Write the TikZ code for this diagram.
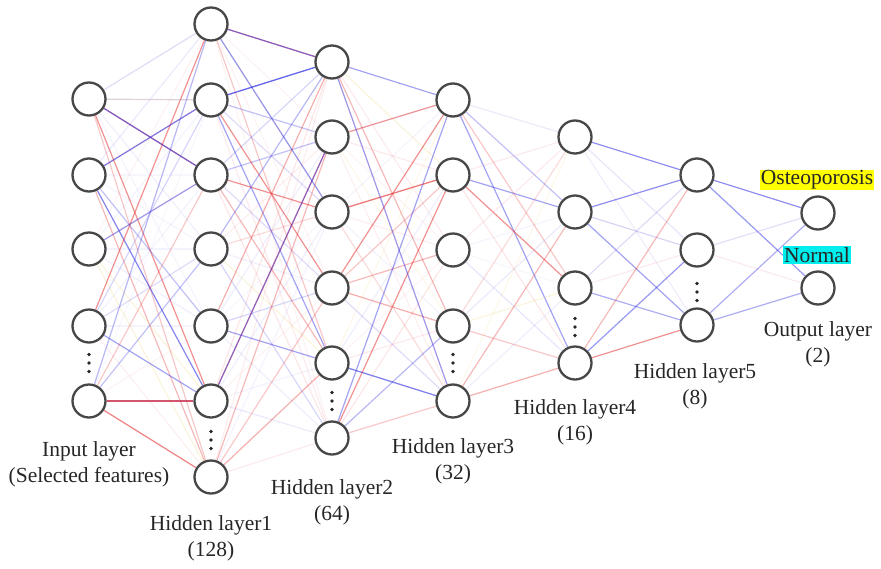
\documentclass[tikz,border=0pt]{standalone}
\usepackage{fontspec}
\setmainfont{Liberation Serif}
\newfontfamily\lblfont{Liberation Serif}
\pgfdeclarelayer{bg}
\pgfsetlayers{bg,main}
\definecolor{eblue}{RGB}{50,50,228}
\definecolor{ered}{RGB}{230,55,55}
\definecolor{evio}{RGB}{130,110,220}
\definecolor{eyel}{RGB}{235,200,80}
\definecolor{epink}{RGB}{235,140,160}
\definecolor{hlyel}{RGB}{255,255,0}
\definecolor{hlcyan}{RGB}{0,238,238}
\newcommand\pickedge{%
 \pgfmathrandominteger{\k}{1}{24}%
 \ifcase\k\or
 \def\ec{eblue}\def\eo{0.6}\or
 \def\ec{eblue}\def\eo{0.45}\or
 \def\ec{eblue}\def\eo{0.3}\or
 \def\ec{eblue}\def\eo{0.2}\or
 \def\ec{eblue}\def\eo{0.12}\or
 \def\ec{eblue}\def\eo{0.08}\or
 \def\ec{ered}\def\eo{0.55}\or
 \def\ec{ered}\def\eo{0.4}\or
 \def\ec{ered}\def\eo{0.28}\or
 \def\ec{ered}\def\eo{0.18}\or
 \def\ec{ered}\def\eo{0.12}\or
 \def\ec{ered}\def\eo{0.08}\or
 \def\ec{evio}\def\eo{0.25}\or
 \def\ec{evio}\def\eo{0.15}\or
 \def\ec{evio}\def\eo{0.08}\or
 \def\ec{eyel}\def\eo{0.2}\or
 \def\ec{eyel}\def\eo{0.12}\or
 \def\ec{epink}\def\eo{0.18}\or
 \def\ec{epink}\def\eo{0.1}\or
 \def\ec{eblue}\def\eo{0.06}\or
 \def\ec{ered}\def\eo{0.06}\or
 \def\ec{evio}\def\eo{0.06}\or
 \def\ec{eblue}\def\eo{0.35}\or
 \def\ec{ered}\def\eo{0.35}\fi}
\begin{document}
\begin{tikzpicture}[x=1pt,y=-1pt,
  neuron/.style={circle, draw=black!72, line width=2.3pt, fill=white, minimum size=33pt, inner sep=0pt},
  lbl/.style={font=\lblfont\fontsize{21.5}{26}\selectfont, align=center, text=black!85},
  edge/.style={line width=1.2pt},
  vdot/.style={fill=black!85}]
\useasboundingbox (0,0) rectangle (881,568);
% neurons
\foreach \y [count=\i] in {99,175,249,326,401} \node[neuron] (L0-\i) at (89,\y) {};
\foreach \y [count=\i] in {24,100,175,249,326,401,477} \node[neuron] (L1-\i) at (211,\y) {};
\foreach \y [count=\i] in {62,137,212,288,363,438} \node[neuron] (L2-\i) at (332,\y) {};
\foreach \y [count=\i] in {100,175,250,326,401} \node[neuron] (L3-\i) at (453,\y) {};
\foreach \y [count=\i] in {137,212,288,363} \node[neuron] (L4-\i) at (575,\y) {};
\foreach \y [count=\i] in {175,250,325} \node[neuron] (L5-\i) at (697,\y) {};
\foreach \y [count=\i] in {213,288} \node[neuron] (L6-\i) at (818,\y) {};
% vertical dots
\foreach \x/\y in {89/363, 211/440, 332/401, 453/363, 575/327, 697/292}
  \foreach \d in {-8.5,0,8.5} \fill[vdot] (\x,\y+\d) circle (1.8);
% connectors
\begin{pgfonlayer}{bg}
\pgfmathsetseed{12}
\foreach \a/\na/\b/\nb in {0/5/1/7,1/7/2/6,2/6/3/5,3/5/4/4}{
  \foreach \i in {1,...,\na}{
    \foreach \j in {1,...,\nb}{
      \pickedge
      \draw[edge, draw=\ec, draw opacity=\eo] (L\a-\i) -- (L\b-\j);
    }}}
\foreach \i/\j/\c/\o in {1/3/eblue/.6, 2/2/eblue/.6, 5/6/ered/.7, 5/7/ered/.4, 3/3/eblue/.45, 1/2/evio/.25}
  \draw[edge, draw=\c, draw opacity=\o] (L0-\i) -- (L1-\j);
\foreach \i/\j/\c/\o in {1/1/eblue/.55, 2/1/eblue/.55, 1/3/eblue/.5, 6/2/eblue/.5}
  \draw[edge, draw=\c, draw opacity=\o] (L1-\i) -- (L2-\j);
\foreach \i/\j/\c/\o in {2/1/ered/.5, 3/2/ered/.5, 1/5/eblue/.45, 5/5/eblue/.45}
  \draw[edge, draw=\c, draw opacity=\o] (L2-\i) -- (L3-\j);
\foreach \i/\j/\c/\o in {1/1/eblue/.55, 1/2/evio/.18, 1/3/evio/.12, 2/1/eblue/.55, 2/2/evio/.3, 2/3/eblue/.45, 3/1/evio/.25, 3/2/epink/.18, 3/3/eblue/.4, 4/1/ered/.35, 4/2/eblue/.5, 4/3/ered/.55}
  \draw[edge, draw=\c, draw opacity=\o] (L4-\i) -- (L5-\j);
\foreach \i/\j/\c/\o in {1/1/eblue/.55, 1/2/eblue/.5, 2/1/evio/.22, 2/2/epink/.18, 3/1/eblue/.4, 3/2/eblue/.4}
  \draw[edge, draw=\c, draw opacity=\o] (L5-\i) -- (L6-\j);
\end{pgfonlayer}
% labels
\node[lbl] (lin) at (89,464) {Input layer\\(Selected features)};
\node[lbl] (lh1) at (211,538) {Hidden layer1\\(128)};
\node[lbl] (lh2) at (332,502) {Hidden layer2\\(64)};
\node[lbl] (lh3) at (453,461) {Hidden layer3\\(32)};
\node[lbl] (lh4) at (575,422) {Hidden layer4\\(16)};
\node[lbl] (lh5) at (695,386) {Hidden layer5\\(8)};
\node[lbl] (lout) at (818,344) {Output layer\\(2)};
\node[lbl, fill=hlyel, inner sep=1pt] (ost) at (817,180) {Osteoporosis};
\node[lbl, fill=hlcyan, inner sep=1pt] (nor) at (817,255) {Normal};
\end{tikzpicture}
\end{document}
